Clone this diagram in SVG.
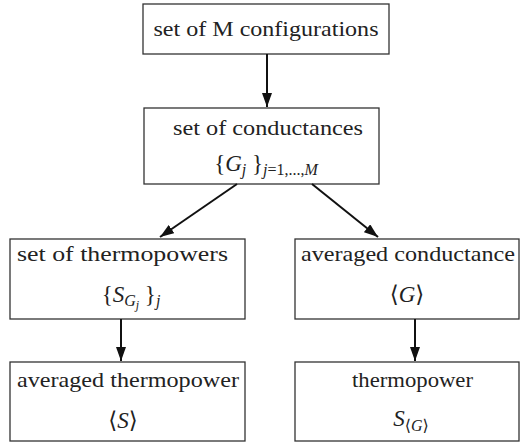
<svg xmlns="http://www.w3.org/2000/svg" width="520" height="444" viewBox="0 0 520 444">
<style>
.box{fill:#fff;stroke:#333;stroke-width:1.3}
.t{font-family:'Liberation Serif','Times New Roman','DejaVu Serif',serif;font-size:21px;fill:#222;text-anchor:middle}
.m{font-size:23px}
.i{font-style:italic}
.s{font-size:16px}
.ss{font-size:12px}
.c{stroke:#111;stroke-width:2;fill:none;marker-end:url(#ah)}
</style>
<defs>
<marker id="ah" viewBox="0 0 14 10" refX="14" refY="5" markerWidth="14" markerHeight="10" markerUnits="userSpaceOnUse" orient="auto">
<path d="M0,0 L14,5 L0,10 Z" fill="#111"/>
</marker>
</defs>
<g id="n1">
<rect class="box" x="143" y="4" width="246" height="50"/>
<text class="t" x="266" y="36" textLength="225" lengthAdjust="spacingAndGlyphs">set of M configurations</text>
</g>
<g id="n2">
<rect class="box" x="144" y="108" width="235" height="76"/>
<text class="t" x="268" y="135" textLength="190" lengthAdjust="spacingAndGlyphs">set of conductances</text>
<text class="t m" x="266" y="171">{<tspan class="i">G</tspan><tspan class="i s" dy="4">j</tspan><tspan dy="-4"> }</tspan><tspan class="i s" dy="4">j</tspan><tspan class="s">=1,...,</tspan><tspan class="i s">M</tspan></text>
</g>
<g id="n3">
<rect class="box" x="10" y="239" width="235" height="80"/>
<text class="t" x="122.5" y="261" textLength="211" lengthAdjust="spacingAndGlyphs">set of thermopowers</text>
<text class="t m" x="131" y="302">{<tspan class="i">S</tspan><tspan class="i s" dy="4">G</tspan><tspan class="i ss" dy="3">j</tspan><tspan dy="-7"> }</tspan><tspan class="i s" dy="4">j</tspan></text>
</g>
<g id="n4">
<rect class="box" x="295" y="239" width="224" height="80"/>
<text class="t" x="408" y="261" textLength="214" lengthAdjust="spacingAndGlyphs">averaged conductance</text>
<text class="t m" x="407" y="302">⟨<tspan class="i">G</tspan>⟩</text>
</g>
<g id="n5">
<rect class="box" x="10" y="362" width="235" height="79"/>
<text class="t" x="128" y="387" textLength="222" lengthAdjust="spacingAndGlyphs">averaged thermopower</text>
<text class="t m" x="123" y="428">⟨<tspan class="i">S</tspan>⟩</text>
</g>
<g id="n6">
<rect class="box" x="295" y="362" width="224" height="79"/>
<text class="t" x="412.5" y="387" textLength="121" lengthAdjust="spacingAndGlyphs">thermopower</text>
<text class="t m" x="411" y="426"><tspan class="i">S</tspan><tspan class="s" dy="5">⟨</tspan><tspan class="i s">G</tspan><tspan class="s">⟩</tspan></text>
</g>
<g id="connectors">
<line class="c" x1="267" y1="54" x2="267" y2="107"/>
<line class="c" x1="237" y1="184" x2="160" y2="237"/>
<line class="c" x1="312" y1="184" x2="378" y2="237"/>
<line class="c" x1="121" y1="319" x2="121" y2="361"/>
<line class="c" x1="415" y1="319" x2="415" y2="361"/>
</g>
</svg>
